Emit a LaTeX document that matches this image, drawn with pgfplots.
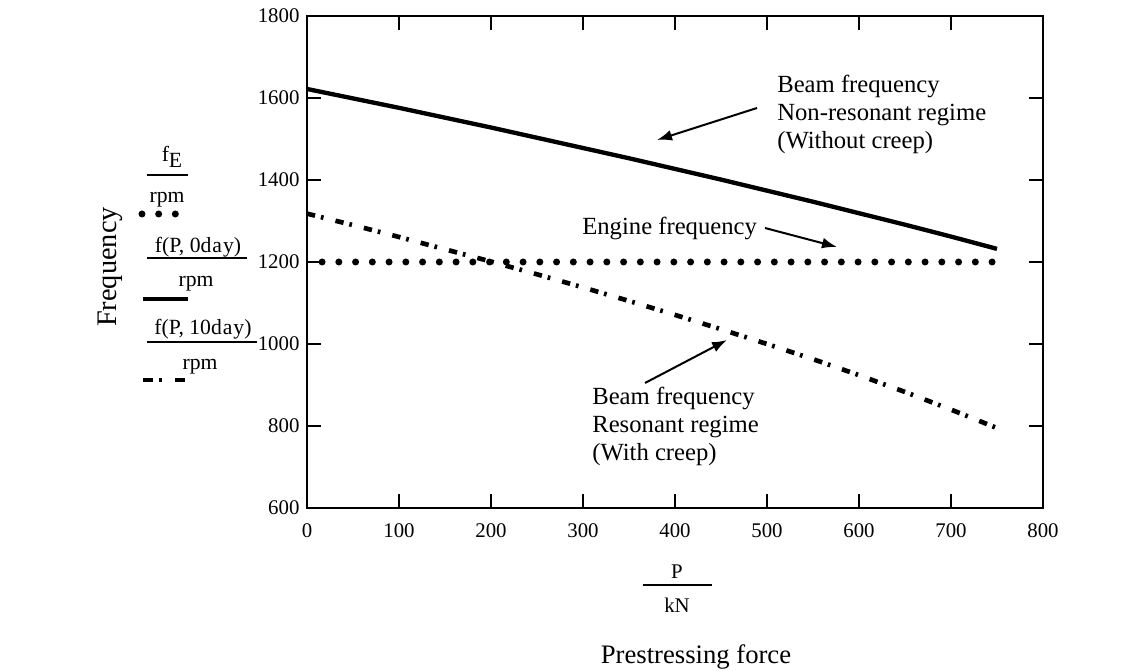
\documentclass[border=0pt]{standalone}
\usepackage{fontspec}
\setmainfont{Liberation Serif}
\usepackage{pgfplots}
\usepackage{pgfplotstable}
\pgfplotsset{compat=1.18}
\usetikzlibrary{arrows.meta}

% P (kN), beam frequency without creep, with creep (rpm)
\pgfplotstableread{
P    f0    f10
0    1622  1318
50   1599  1290
100  1576  1261
150  1552  1231
200  1528  1201
250  1503  1170
300  1478  1138
350  1453  1105
400  1427  1071
450  1401  1036
500  1374  1000
550  1347  963
600  1319  924
650  1291  883
700  1262  840
750  1232  795
}\freqdata

\tikzset{
  enginedots/.style={black, line width=4.2pt, line cap=round, dash pattern=on 0pt off 10.05pt},
  creepdash/.style={black, line width=2.8pt, dash pattern=on 5pt off 3.6pt on 1.6pt off 7.4pt},
  note/.style={font=\fontsize{14.8}{17}\selectfont, anchor=base west, inner sep=0pt},
  leg/.style={font=\fontsize{13}{15}\selectfont, anchor=base, inner sep=0pt},
  pointer/.style={line width=1.2pt, -{Latex[length=9pt,width=6.5pt]}},
}

\begin{document}
\begin{tikzpicture}[font=\fontsize{12}{14}\selectfont]
\begin{axis}[name=ax,
  scale only axis, width=441.6pt, height=295.2pt,
  xmin=0, xmax=800, ymin=600, ymax=1800,
  xtick={0,100,...,800}, ytick={600,800,...,1800},
  tick align=inside, major tick length=8.5pt,
  axis line style={line width=0.9pt},
  tick style={line width=0.9pt, black},
  /pgf/number format/assume math mode=true,
  /pgf/number format/1000 sep={},
  tick label style={font=\fontsize{12.5}{14}\selectfont},
  xticklabel style={yshift=-6pt},
  yticklabel style={xshift=-1pt},
  clip=false]
\addplot[black, line width=2.6pt] table[x=P, y=f0] {\freqdata};
\addplot[enginedots, dash phase=1pt] coordinates {(0,1200) (750,1200)};
\addplot[creepdash] table[x=P, y=f10] {\freqdata};
\end{axis}

% labels, notes and the left-hand legend, in pixel units of the picture
\begin{scope}[shift={([xshift=-184.2pt, yshift=304.8pt]ax.south west)}, x=0.6pt, y=-0.6pt]
  % y label
  \node[rotate=90, anchor=base, inner sep=0pt, font=\fontsize{17}{19}\selectfont] at (117,267) {Frequency};
  % x label as a fraction
  \node[leg, font=\fontsize{12.5}{14}\selectfont] at (677,578) {P};
  \draw[line width=0.8pt] (643,585) -- (712,585);
  \node[leg, font=\fontsize{12.5}{14}\selectfont] at (677,612) {kN};
  \node[anchor=base, inner sep=0pt, font=\fontsize{16}{18}\selectfont] at (696,663) {Prestressing force};

  % legend
  \node[leg] at (172,162) {f\raisebox{-3.5pt}{E}};
  \draw[line width=0.8pt] (147,175) -- (188,175);
  \node[leg] at (167,203) {rpm};
  \draw[enginedots, dash pattern=on 0pt off 10pt] (142,214) -- (180,214);

  \node[leg] at (198,253) {f(P,\ 0d\kern0.6pt a\kern0.6pt y)};
  \draw[line width=0.8pt] (147,258) -- (247,258);
  \node[leg] at (196,287) {rpm};
  \draw[black, line width=2.6pt] (143,299) -- (188,299);

  \node[leg] at (203,335) {f(P,\ 10d\kern0.6pt a\kern0.6pt y)};
  \draw[line width=0.8pt] (147,342) -- (257,342);
  \node[leg] at (200,370) {rpm};
  \draw[black, line width=2.8pt, dash pattern=on 6pt off 3.6pt on 2pt off 7.8pt] (143,380) -- (188,380);

  % notes
  \node[note] at (777,93) {Beam frequency};
  \node[note] at (777,121) {Non-resonant regime};
  \node[note] at (777,149) {(Without creep)};
  \draw[pointer] (757,108) -- (657,140);

  \node[note] at (582,235) {Engine frequency};
  \draw[pointer] (765,228) -- (837,247);

  \node[note] at (592,405) {Beam frequency};
  \node[note] at (592,433) {Resonant regime};
  \node[note] at (592,461) {(With creep)};
  \draw[pointer] (645,383) -- (727,340);

  \pgfresetboundingbox
  \path[use as bounding box] (0,0) rectangle (1143,670);
\end{scope}
\end{tikzpicture}
\end{document}
